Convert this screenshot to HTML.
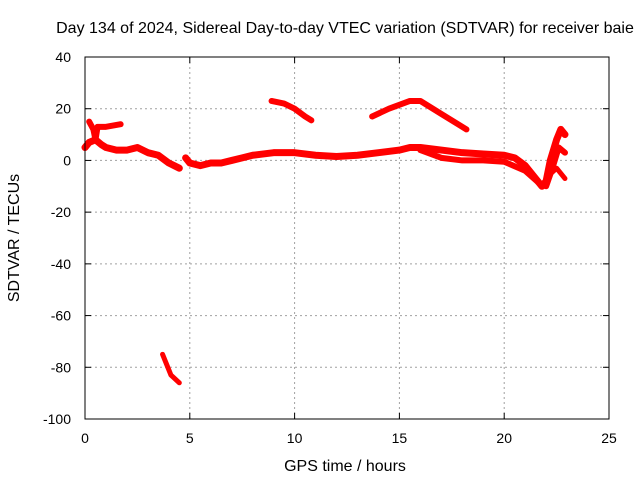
<!DOCTYPE html>
<html><head><meta charset="utf-8"><style>
body{margin:0;background:#fff}
svg{display:block;font-family:"Liberation Sans",sans-serif}
</style></head><body>
<svg id="c" width="640" height="480">
<text x="345" y="33" text-anchor="middle" font-size="16">Day 134 of 2024, Sidereal Day-to-day VTEC variation (SDTVAR) for receiver baie</text>
<text x="345" y="471" text-anchor="middle" font-size="16">GPS time / hours</text>
<text transform="translate(19,238) rotate(-90)" text-anchor="middle" font-size="16">SDTVAR / TECUs</text>
<g id="grid"></g><g id="series"></g>
<rect x="85" y="57" width="524" height="362" fill="none" stroke="#000" stroke-width="1"/>
</svg>
<script>
const xTicks=[0,5,10,15,20,25];
const yTicks=[40,20,0,-20,-40,-60,-80,-100];
const mainA=[[0,5],[0.2,7],[0.5,8],[0.8,6],[1,5],[1.5,4],[2,4],[2.5,5],[3,3],[3.5,2],[4,-1],[4.5,-3]];
const mainLoop=[[0.2,15],[0.4,12],[0.5,8],[0.6,13],[1,13],[1.7,14]];
const mainB=[[4.8,1],[5,-1],[5.5,-2],[6,-1],[6.5,-1],[7,0],[7.5,1],[8,2],[9,3],[10,3],[11,2],[12,1.5],[13,2],[14,3],[15,4],[15.5,5],[16,5],[17,4],[18,3],[19,2.5],[20,2],[20.5,1],[21,-2],[21.5,-7],[21.8,-10],[22,-8],[22.2,0],[22.5,8],[22.7,12],[22.9,10]];
const mainC=[[16,4],[17,1],[18,0],[19,0],[20,-0.5],[21,-4],[21.7,-9],[22,-10],[22.3,-3],[22.6,5],[22.9,3]];
const mainD=[[22.1,-6],[22.5,-3],[22.9,-7]];
const arc1=[[8.9,23],[9.5,22],[10,20],[10.5,17],[10.8,15.5]];
const arc2=[[13.7,17],[14.5,20],[15.5,23],[16,23],[17,18],[18.2,12]];
const lowSeg=[[3.7,-75],[3.9,-79],[4.1,-83],[4.5,-86]];
const X=v=>85+v*524/25, Y=v=>57+(40-v)*362/140;
const NS='http://www.w3.org/2000/svg', svg=document.getElementById('c');
const g=document.getElementById('grid'), s=document.getElementById('series');
function mk(t,a,p){const e=document.createElementNS(NS,t);for(const k in a)e.setAttribute(k,a[k]);p.appendChild(e);return e;}
xTicks.forEach(t=>{
 if(t>0&&t<25){const l=mk('line',{x1:X(t),x2:X(t),y1:57,y2:419,stroke:'#a0a0a0','stroke-dasharray':'2,3'},g);
 
 }
 mk('line',{x1:X(t),x2:X(t),y1:419,y2:413,stroke:'#000'},g);
 mk('line',{x1:X(t),x2:X(t),y1:57,y2:63,stroke:'#000'},g);
 const tx=mk('text',{x:X(t),y:443,'text-anchor':'middle','font-size':14},g);tx.textContent=t;
 
 
});
yTicks.forEach(t=>{
 if(t<40&&t>-100){const l=mk('line',{x1:85,x2:609,y1:Y(t),y2:Y(t),stroke:'#a0a0a0','stroke-dasharray':'2,3'},g);
 
 }
 mk('line',{x1:85,x2:91,y1:Y(t),y2:Y(t),stroke:'#000'},g);
 mk('line',{x1:609,x2:603,y1:Y(t),y2:Y(t),stroke:'#000'},g);
 const tx=mk('text',{x:71,y:Y(t)+5,'text-anchor':'end','font-size':14},g);tx.textContent=t;
 
 
});
[[mainA,7],[mainLoop,6],[mainB,7],[mainC,6],[mainD,5],[arc1,6],[arc2,6],[lowSeg,5]].forEach(([d,w])=>{
 const p=mk('polyline',{points:d.map(q=>X(q[0])+','+Y(q[1])).join(' '),fill:'none',stroke:'#f00','stroke-width':w,'stroke-linejoin':'round','stroke-linecap':'round'},s);
 
 
});
</script>
</body></html>
